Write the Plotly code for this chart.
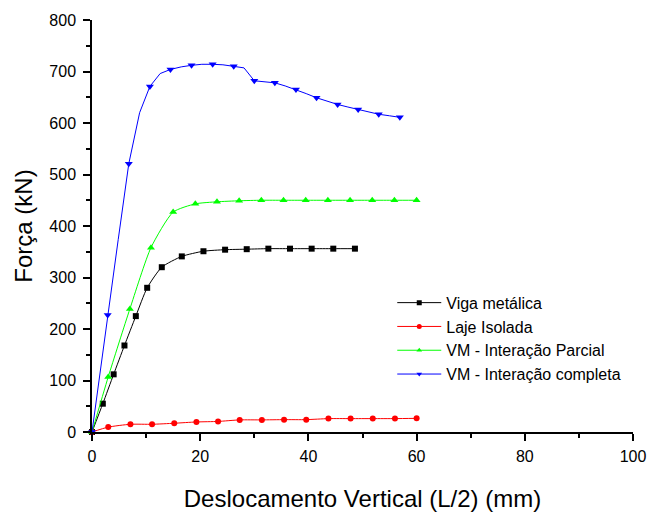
import plotly.graph_objects as go

# ---- data ----
x_viga = [0, 2.0, 4.0, 6.0, 8.1, 10.2, 12.9, 16.6, 20.6, 24.6, 28.6, 32.6, 36.6, 40.6, 44.6, 48.6]
y_viga = [0, 55, 112, 168, 225, 280, 320, 341, 351, 354, 355, 356, 356, 356, 356, 356]

x_laje = [0, 3.0, 7.1, 11.1, 15.2, 19.3, 23.3, 27.3, 31.4, 35.5, 39.6, 43.7, 47.8, 51.9, 56.0, 60.0]
y_laje = [0, 9.5, 15, 15, 17, 19.5, 20.5, 23.5, 23.5, 24, 24, 26, 26, 26, 26, 26.5]

x_parcial = [0, 3.0, 7.0, 10.9, 15.0, 19.1, 23.1, 27.2, 31.3, 35.4, 39.5, 43.6, 47.7, 51.8, 55.9, 60.0]
y_parcial = [0, 107, 239, 358, 427, 443, 447, 449, 450, 450, 450, 450, 450, 450, 450, 450]

x_completa = [0, 2.9, 4.85, 6.8, 8.8, 10.7, 12.6, 14.5, 16.5, 18.4, 20.3, 22.3, 24.2, 26.2, 28.1,
              30.0, 31.9, 33.8, 35.7, 37.7, 39.6, 41.5, 43.4, 45.4, 47.3, 49.2, 51.1, 53.0, 55.0, 56.9]
y_completa = [0, 227, 374, 521, 620, 671, 696, 704, 709, 712, 714, 714, 713, 710, 707,
              682, 680, 678, 672, 665, 657, 649, 642, 636, 631, 626, 621, 617, 614, 611]

names = ["Viga metálica", "Laje Isolada", "VM - Interação Parcial", "VM - Interação completa"]
colors = ["#000000", "#ff0000", "#00ff00", "#0000ff"]
symbols = ["square", "circle", "triangle-up", "triangle-down"]
msizes = [6, 6, 7, 7]

fig = go.Figure()

series = [(x_viga, y_viga), (x_laje, y_laje), (x_parcial, y_parcial)]
for (xs, ys), nm, c, s, ms in zip(series, names[:3], colors[:3], symbols[:3], msizes[:3]):
    fig.add_trace(go.Scatter(x=xs, y=ys, mode="lines+markers", showlegend=False,
                             line=dict(color=c, width=1, shape="spline", smoothing=0.6),
                             marker=dict(symbol=s, size=ms, color=c), cliponaxis=False))

# blue: line through all points, markers on every other point
mk = [0] + list(range(1, len(x_completa), 2))
fig.add_trace(go.Scatter(x=x_completa, y=y_completa, mode="lines", showlegend=False,
                         line=dict(color=colors[3], width=1), cliponaxis=False))
fig.add_trace(go.Scatter(x=[x_completa[i] for i in mk], y=[y_completa[i] for i in mk],
                         mode="markers", showlegend=False,
                         marker=dict(symbol=symbols[3], size=msizes[3], color=colors[3]),
                         cliponaxis=False))

# legend entries
for nm, c, s in zip(names, colors, symbols):
    fig.add_trace(go.Scatter(x=[None], y=[None], mode="lines+markers", name=nm,
                             line=dict(color=c, width=1),
                             marker=dict(symbol=s, size=5, color=c)))

axis_common = dict(showgrid=False, zeroline=False, showline=True, linecolor="black", linewidth=1.5,
                   ticks="outside", ticklen=7, tickwidth=1.5, tickcolor="black",
                   tickfont=dict(size=16, color="black"))

fig.update_layout(
    width=649, height=512,
    margin=dict(l=92, r=16, t=20, b=80, autoexpand=False),
    paper_bgcolor="white", plot_bgcolor="white",
    font=dict(family="Liberation Sans, Arial, sans-serif", color="black"),
    xaxis=dict(range=[0, 100], tick0=0, dtick=20, automargin=False,
               minor=dict(ticks="outside", dtick=10, ticklen=4, tickwidth=1.5, tickcolor="black"),
               title=dict(text="Deslocamento Vertical (L/2) (mm)", font=dict(size=24), standoff=26),
               ticklabelstandoff=2,
               **axis_common),
    yaxis=dict(range=[0, 800], tick0=0, dtick=100, automargin=False,
               minor=dict(ticks="outside", dtick=50, ticklen=4, tickwidth=1.5, tickcolor="black"),
               title=dict(text="Força (kN)", font=dict(size=24), standoff=10),
               ticklabelstandoff=4,
               **axis_common),
    legend=dict(x=0.555, y=0.355, xanchor="left", yanchor="top",
                font=dict(size=16), itemwidth=44, bgcolor="rgba(0,0,0,0)"),
)

fig.write_html("out.html")
